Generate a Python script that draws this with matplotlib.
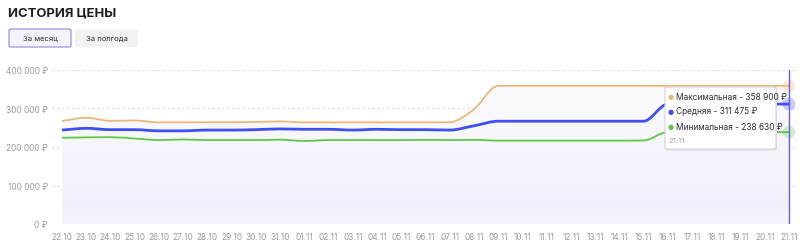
import numpy as np
import matplotlib
matplotlib.use("Agg")
import matplotlib.pyplot as plt
from matplotlib.path import Path
from matplotlib.patches import PathPatch, FancyBboxPatch, Rectangle

plt.rcParams['font.family'] = ['Inter', 'DejaVu Sans']

dates = ['22.10', '23.10', '24.10', '25.10', '26.10', '27.10', '28.10', '29.10', '30.10', '31.10',
         '01.11', '02.11', '03.11', '04.11', '05.11', '06.11', '07.11', '08.11', '09.11', '10.11',
         '11.11', '12.11', '13.11', '14.11', '15.11', '16.11', '17.11', '18.11', '19.11', '20.11', '21.11']

price_max = [267500, 276000, 268000, 269000, 264000, 264000, 264500, 264500, 265000, 266500,
             264000, 264000, 264000, 264000, 264000, 264000, 264500, 298000, 358900, 358900,
             358900, 358900, 358900, 358900, 358900, 358900, 358900, 358900, 358900, 358900, 358900]
price_avg = [244000, 248500, 245000, 245000, 242000, 242000, 244000, 244000, 245000, 247000,
             246000, 246000, 244000, 246000, 245000, 245000, 244000, 255000, 267000, 267000,
             267000, 267000, 267000, 267000, 267000, 311475, 311475, 311475, 311475, 311475, 311475]
price_min = [224000, 225000, 225500, 222000, 218000, 219500, 218000, 218000, 218000, 219000,
             215600, 218000, 218000, 218000, 218000, 218500, 218000, 218500, 216500, 216500,
             216500, 216500, 216500, 216500, 217000, 238630, 238630, 238630, 238630, 238630, 238630]

yticks = [0, 100000, 200000, 300000, 400000]
ytick_labels = ['0 ₽', '100 000 ₽', '200 000 ₽', '300 000 ₽', '400 000 ₽']

c_max = '#e9b97c'
c_avg = '#3d4ff2'
c_min = '#5cc94a'
c_accent = '#6b5ce6'


def monotone_path(x, y):
    # d3-style monotoneX curve as cubic bezier segments
    x = np.asarray(x, float)
    y = np.asarray(y, float)
    h = np.diff(x)
    s = np.diff(y) / h
    n = len(x)
    t = np.zeros(n)
    t[0] = s[0]
    t[-1] = s[-1]
    for i in range(1, n - 1):
        if s[i - 1] * s[i] <= 0:
            t[i] = 0
        else:
            p = (s[i - 1] * h[i] + s[i] * h[i - 1]) / (h[i - 1] + h[i])
            t[i] = np.sign(s[i - 1]) * min(abs(s[i - 1]), abs(s[i]), 0.5 * abs(p)) * 2
    verts = [(x[0], y[0])]
    codes = [Path.MOVETO]
    for i in range(n - 1):
        dx = h[i] / 3
        verts += [(x[i] + dx, y[i] + dx * t[i]), (x[i + 1] - dx, y[i + 1] - dx * t[i + 1]), (x[i + 1], y[i + 1])]
        codes += [Path.CURVE4] * 3
    return verts, codes


fig = plt.figure(figsize=(8, 2.53), dpi=100)
ax = fig.add_axes([52 / 800, 28 / 253, 746 / 800, 154 / 253])
xs = np.arange(len(dates))

# gradient area under the top line
v, c = monotone_path(xs, price_max)
area_v = v + [(xs[-1], 0), (xs[0], 0), v[0]]
area_c = c + [Path.LINETO, Path.LINETO, Path.CLOSEPOLY]
area = PathPatch(Path(area_v, area_c), facecolor='none', edgecolor='none')
ax.add_patch(area)
grad = np.linspace(0, 1, 256).reshape(-1, 1)
cmap = matplotlib.colors.LinearSegmentedColormap.from_list('g', ['#efeffb', '#fbfbfe'])
im = ax.imshow(grad, extent=[xs[0], xs[-1], 0, 360000], aspect='auto', cmap=cmap, origin='lower', zorder=1)
im.set_clip_path(area)
ax.add_patch(Rectangle((xs[0], 0), xs[-1], 33000, facecolor='#f3f3fc', edgecolor='none', zorder=1.1, clip_path=area))

for vals, col in [(price_max, c_max), (price_avg, c_avg), (price_min, c_min)]:
    v, c = monotone_path(xs, vals)
    lw = 2.0 if col == c_avg else 1.3
    ax.add_patch(PathPatch(Path(v, c), facecolor='none', edgecolor=col, lw=lw, zorder=3))
    ax.scatter([xs[-1]], [vals[-1]], s=85, color=col, alpha=0.28, edgecolors='none', zorder=4, clip_on=False)

ax.axvline(xs[-1], color=c_accent, lw=1.0, zorder=5)

ax.set_xlim(-0.41, 30.37)
ax.set_ylim(0, 400000)
ax.set_yticks(yticks)
ax.set_yticklabels(ytick_labels)
ax.set_xticks(xs)
ax.set_xticklabels(dates)
ax.tick_params(length=0, labelsize=6, colors='#9a9aa3', pad=3)
ax.tick_params(axis='x', pad=5.5)
ax.grid(axis='y', color='#d9d9de', lw=0.8, ls=(0, (2, 2.5)))
ax.set_axisbelow(True)
for sp in ax.spines.values():
    sp.set_visible(False)

# tooltip
shadow = FancyBboxPatch((666 / 800, (253 - 152) / 253), 111 / 800, 62 / 253, boxstyle='round,pad=0,rounding_size=0.004',
                        transform=fig.transFigure, facecolor='#e6e6ea', edgecolor='none', zorder=9)
tip = FancyBboxPatch((665 / 800, (253 - 150) / 253), 111 / 800, 62 / 253, boxstyle='round,pad=0,rounding_size=0.004',
                     transform=fig.transFigure, facecolor='white', edgecolor='#d4d4d8', lw=0.8, zorder=10)
fig.patches.extend([shadow, tip])
items = [('Максимальная - 358 900 ₽', c_max), ('Средняя - 311 475 ₽', c_avg), ('Минимальная - 238 630 ₽', c_min)]
for k, (txt, col) in enumerate(items):
    yy = (253 - (97 + 15 * k)) / 253
    fig.text(671 / 800, yy, '●', color=col, fontsize=5, va='center', ha='center', zorder=11,
             family=['DejaVu Sans'])
    fig.text(676 / 800, yy, txt, color='#2b2b33', fontsize=6, va='center', ha='left', zorder=11)
fig.text(668 / 800, (253 - 141) / 253, '21.11', color='#9a9aa3', fontsize=5.5, va='center', ha='left', zorder=11)

# header
fig.text(8 / 800, (253 - 13) / 253, 'ИСТОРИЯ ЦЕНЫ', fontsize=9.4, fontweight='bold', color='#1d1d24', va='center')
b1 = FancyBboxPatch((9 / 800, (253 - 48) / 253), 62 / 800, 18 / 253, boxstyle='round,pad=0,rounding_size=0.004',
                    transform=fig.transFigure, facecolor='#f4f3fb', edgecolor='#9c92e2', lw=0.9)
b2 = FancyBboxPatch((75 / 800, (253 - 48) / 253), 63 / 800, 18 / 253, boxstyle='round,pad=0,rounding_size=0.004',
                    transform=fig.transFigure, facecolor='#f2f2f3', edgecolor='none')
fig.patches.extend([b1, b2])
fig.text(40 / 800, (253 - 39) / 253, 'За месяц', fontsize=5.5, color='#2b2b33', ha='center', va='center')
fig.text(106.5 / 800, (253 - 39) / 253, 'За полгода', fontsize=5.5, color='#2b2b33', ha='center', va='center')

fig.savefig('out.png', dpi=100, facecolor='white')
